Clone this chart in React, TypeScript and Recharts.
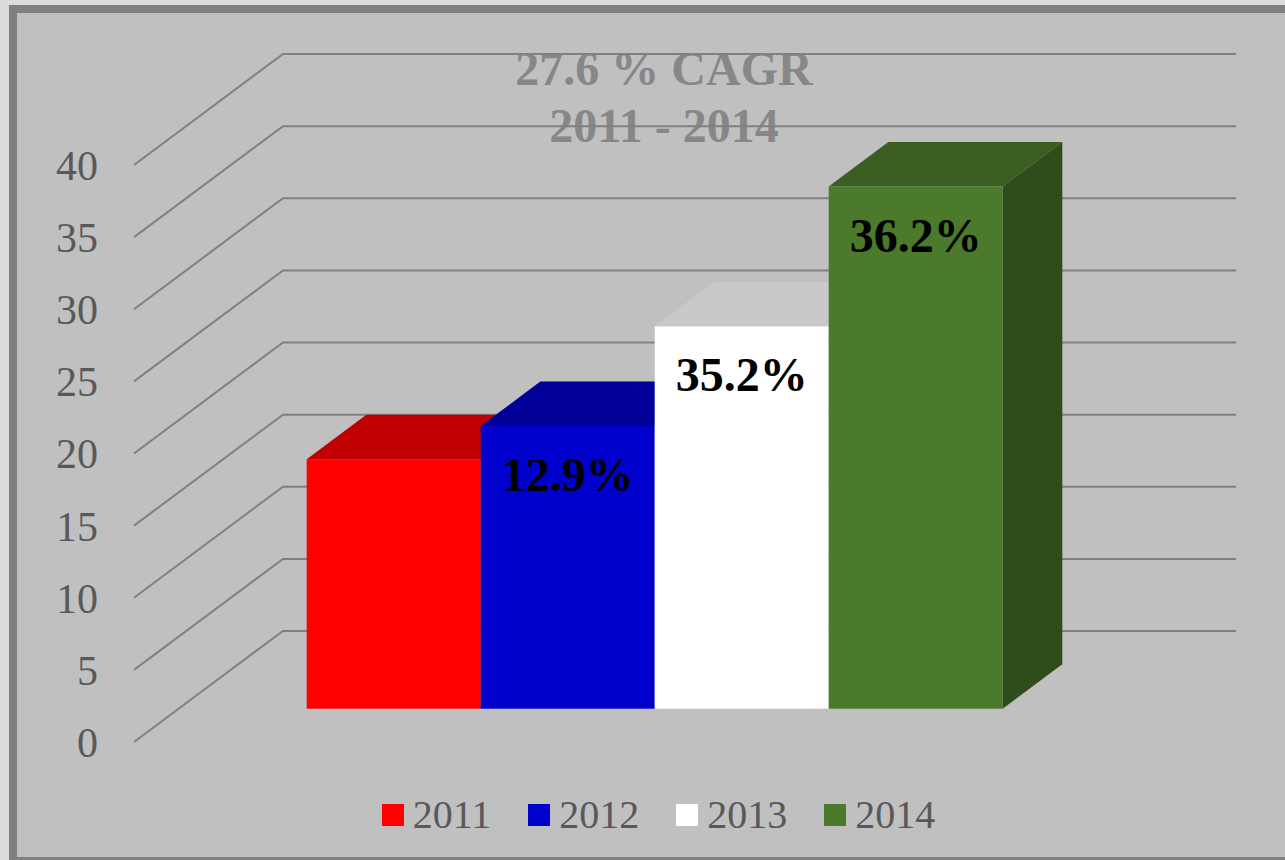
import { BarChart, Bar, XAxis, YAxis, ReferenceLine, Legend, LabelList } from 'recharts';

const years = ['2011', '2012', '2013', '2014'];
const values = [17.3, 19.6, 26.5, 36.2];
const growthLabels = ['', '12.9%', '35.2%', '36.2%'];
const yTicks = [0, 5, 10, 15, 20, 25, 30, 35, 40];
const titleLines = ['27.6 % CAGR', '2011 - 2014'];

const frontColors = ['#ff0000', '#0000cc', '#ffffff', '#4a7a2a'];
const topColors = ['#c00000', '#000099', '#c9c9c9', '#3a5e21'];
const sideColors = ['#a00000', '#00007a', '#b5b5b5', '#2f4d1a'];

// oblique 3d: how far the floor goes back (px), and where the boxes sit in it
const DEPTH_X = 149;
const DEPTH_Y = -111;
const BOX_FRONT = 0.3;
const BOX_BACK = 0.7;

const SERIF = '"Liberation Serif", "Times New Roman", serif';
const GRID = '#808080';
const TEXT = '#595959';

const row: Record<string, string | number> = { name: 'revenue' };
years.forEach((year, i) => {
  row[`v${year}`] = values[i];
  row[`g${year}`] = growthLabels[i];
});
const chartData = [row];

function WallGridLine(props: any) {
  const { x1, x2, y1 } = props;
  const left = Math.min(x1, x2);
  const right = Math.max(x1, x2);
  const by = y1 + DEPTH_Y;
  return (
    <path
      d={`M${left},${y1}L${left + DEPTH_X},${by}L${right + DEPTH_X},${by}`}
      stroke={GRID}
      strokeWidth={2}
      fill="none"
    />
  );
}

function Box3D(props: any) {
  const { x, y, width, height, front, top, side } = props;
  if (!width || height === undefined) {
    return null;
  }
  const fx = x + DEPTH_X * BOX_FRONT;
  const fy = y + DEPTH_Y * BOX_FRONT;
  const dx = DEPTH_X * (BOX_BACK - BOX_FRONT);
  const dy = DEPTH_Y * (BOX_BACK - BOX_FRONT);
  const r = fx + width;
  const b = fy + height;
  return (
    <g>
      <polygon points={`${r},${fy} ${r + dx},${fy + dy} ${r + dx},${b + dy} ${r},${b}`} fill={side} />
      <polygon points={`${fx},${fy} ${r},${fy} ${r + dx},${fy + dy} ${fx + dx},${fy + dy}`} fill={top} />
      <rect x={fx} y={fy} width={width} height={height} fill={front} />
    </g>
  );
}

function GrowthLabel(props: any) {
  if (!props.value) {
    return null;
  }
  const box = props.viewBox ?? props;
  const { x, y, width } = box;
  return (
    <text
      x={x + width / 2 + DEPTH_X * BOX_FRONT}
      y={y + DEPTH_Y * BOX_FRONT + 65}
      textAnchor="middle"
      fontFamily={SERIF}
      fontWeight="bold"
      fontSize={48}
      fill="#000000"
    >
      {props.value}
    </text>
  );
}

function YearLegend(props: any) {
  const payload = props.payload ?? [];
  return (
    <div style={{ display: 'flex', justifyContent: 'center', gap: 37 }}>
      {payload.map((entry: any) => (
        <div key={entry.value} style={{ display: 'flex', alignItems: 'center', height: 44 }}>
          <span style={{ width: 22, height: 22, background: entry.color, marginRight: 9 }} />
          <span style={{ fontFamily: SERIF, fontSize: 40, color: TEXT, lineHeight: '44px' }}>{entry.value}</span>
        </div>
      ))}
    </div>
  );
}

export default function App() {
  return (
    <div style={{ position: 'fixed', left: 0, top: 0, width: 1285, height: 860, background: '#dcdcdc', overflow: 'hidden' }}>
      <div
        style={{
          position: 'absolute',
          left: 9,
          top: 5,
          width: 1400,
          height: 860,
          boxSizing: 'border-box',
          border: `8px solid ${GRID}`,
          background: '#c0c0c0',
        }}
      />
      <div
        style={{
          position: 'absolute',
          left: 0,
          top: 40,
          width: 1328,
          textAlign: 'center',
          fontFamily: SERIF,
          fontWeight: 'bold',
          fontSize: 48,
          lineHeight: '57px',
          color: '#878787',
        }}
      >
        {titleLines.map((line) => (
          <div key={line}>{line}</div>
        ))}
      </div>
      <div style={{ position: 'absolute', left: 0, top: 0 }}>
        <BarChart
          width={1285}
          height={860}
          data={chartData}
          margin={{ top: 165, right: 198, bottom: 118, left: 54 }}
          barCategoryGap={128}
          barGap={0}
        >
          <XAxis dataKey="name" hide />
          <YAxis
            width={80}
            domain={[0, 40]}
            ticks={yTicks}
            axisLine={false}
            tickLine={false}
            tickSize={0}
            tickMargin={36}
            tick={{ fontSize: 42, fill: TEXT, fontFamily: SERIF }}
          />
          {yTicks.map((t) => (
            <ReferenceLine key={t} y={t} zIndex={-50} shape={WallGridLine} />
          ))}
          {years.map((year, i) => (
            <Bar
              key={year}
              dataKey={`v${year}`}
              name={year}
              fill={frontColors[i]}
              isAnimationActive={false}
              shape={(p: any) => <Box3D {...p} front={frontColors[i]} top={topColors[i]} side={sideColors[i]} />}
            >
              <LabelList dataKey={`g${year}`} content={GrowthLabel} />
            </Bar>
          ))}
          <Legend
            verticalAlign="middle"
            align="center"
            content={YearLegend}
            wrapperStyle={{ position: 'absolute', top: 793, left: 16, width: 1285 }}
          />
        </BarChart>
      </div>
    </div>
  );
}
